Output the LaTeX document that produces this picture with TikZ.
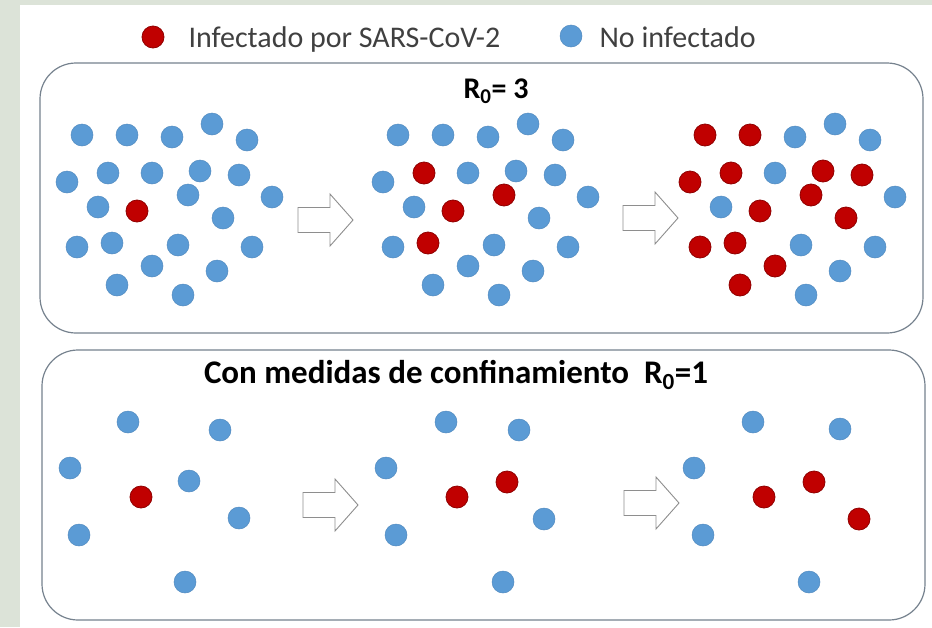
\documentclass[tikz,border=0pt]{standalone}
\usepackage{fontspec}
\setmainfont{Carlito}
\usetikzlibrary{calc}

\definecolor{azulsano}{HTML}{5B9BD5}
\definecolor{rojoinf}{HTML}{C00000}
\definecolor{fondo}{HTML}{DCE3D8}
\definecolor{borde}{HTML}{76828E}
\definecolor{gristexto}{HTML}{404040}
\definecolor{grisflecha}{HTML}{8E8E8E}

\begin{document}
\begin{tikzpicture}[x=1pt,y=-1pt,
    s/.style={fill=azulsano,draw=azulsano!90!black,line width=.5pt},
    i/.style={fill=rojoinf,draw=rojoinf!75!black,line width=.8pt},
    caja/.style={draw=borde,line width=1.2pt,fill=white,rounded corners=36pt},
    flecha/.style={draw=grisflecha,line width=.9pt,fill=white,line join=miter},
    leyenda/.style={anchor=base west,text=gristexto,font=\fontsize{30}{36}\selectfont},
    titulo/.style={anchor=base,text=black,font=\fontsize{30}{36}\selectfont\bfseries}]

    % fondo y margenes
    \fill[fondo] (0,0) rectangle (932,627);
    \fill[white] (20,5) rectangle (932,627);
    \useasboundingbox (0,0) rectangle (932,627);

    % leyenda
    \fill[i] (153,37) coordinate (dotinf) circle (11pt);
    \node[leyenda] (txtinf) at (185,47) {Infectado por SARS-CoV-2};
    \fill[s] (571,36) coordinate (dotsano) circle (11pt);
    \node[leyenda] (txtsano) at (596,47) {No infectado};

    % cajas
    \draw[caja] (40,63) rectangle (923,333);
    \draw[caja] (42,350) rectangle (925,620);
    \node[titulo] (r3) at (496,98) {R\textsubscript{0}= 3};
    \node[titulo,font=\fontsize{33}{38}\selectfont\bfseries] (r1) at (456,383)
        {Con medidas de confinamiento\ \ R\textsubscript{0}=1};

    % R0 = 3: tres momentos
    \foreach \px/\py/\sa/\sb/\sc in {82/135/s/s/i, 127/135/s/s/i, 172/137/s/s/s, 212/124/s/s/s,
        247/140/s/s/s, 67/182/s/s/i, 108/173/s/i/i, 152/173/s/s/s, 200/171/s/s/i, 239/175/s/s/i,
        188/195/s/i/i, 272/197/s/s/s, 98/207/s/s/s, 137/211/i/i/i, 223/218/s/s/i, 77/247/s/s/i,
        112/243/s/i/i, 178/245/s/s/s, 252/247/s/s/s, 152/266/s/s/i, 217/271/s/s/s, 117/285/s/s/i,
        183/295/s/s/s} {
        \fill[\sa] (\px,\py) circle (11pt);
        \fill[\sb] (\px+316,\py) circle (11pt);
        \fill[\sc] (\px+623,\py) circle (11pt);}

    % R0 = 1: tres momentos
    \foreach \px/\py/\st in {128/422/s, 220/430/s, 70/468/s, 189/481/s, 141/497/i, 239/518/s, 79/535/s, 185/582/s,
        446/422/s, 519/430/s, 386/468/s, 507/482/i, 457/497/i, 544/519/s, 396/535/s, 503/582/s,
        753/422/s, 840/429/s, 694/468/s, 814/482/i, 764/497/i, 859/519/i, 703/535/s, 809/582/s} {
        \fill[\st] (\px,\py) circle (11pt);}

    % flechas
    \foreach \ax/\ay in {298/220, 623/218, 303/505, 624/503} {
        \draw[flecha] (\ax,\ay) ++(0,-12.5) -- ++(32,0) -- ++(0,-13.5) -- ++(23,26)
            -- ++(-23,26) -- ++(0,-13.5) -- ++(-32,0) -- cycle;}
\end{tikzpicture}
\end{document}
